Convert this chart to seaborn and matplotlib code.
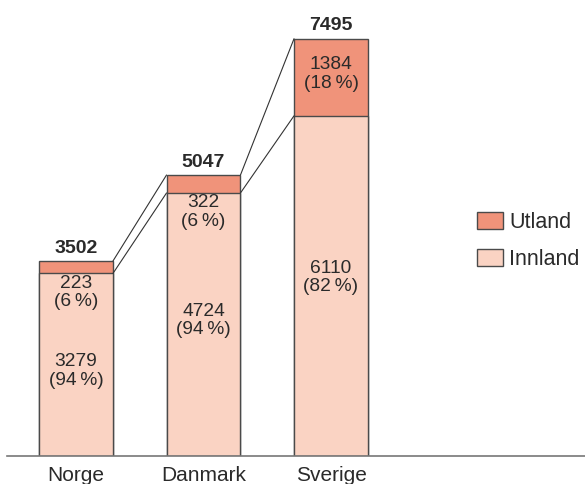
import matplotlib
matplotlib.use("Agg")
import matplotlib.pyplot as plt
import seaborn as sns
import pandas as pd
from matplotlib.patches import Patch

countries = ["Norge", "Danmark", "Sverige"]
innland = [3279, 4724, 6110]
utland = [223, 322, 1384]
innland_pct = [94, 94, 82]
utland_pct = [6, 6, 18]
totals = [3502, 5047, 7495]

c_ut = "#F0937A"
c_in = "#FAD3C3"
edge = "#4a4a4a"
tcol = "#2a2a2a"

sns.set_theme(style="white")
plt.rcParams["font.family"] = ["Liberation Sans", "DejaVu Sans"]

fig = plt.figure(figsize=(5.85, 4.84), dpi=100)
ax = fig.add_axes([7/585, 28/484, 578/585, 446/484])

df = pd.DataFrame({"land": countries, "total": totals, "innland": innland})
width = 0.58
sns.barplot(data=df, x="land", y="total", color=c_ut, edgecolor=edge, linewidth=1.0,
            width=width, saturation=1, ax=ax)
sns.barplot(data=df, x="land", y="innland", color=c_in, edgecolor=edge, linewidth=1.0,
            width=width, saturation=1, ax=ax)

px_per_unit = 127.5
ax.set_xlim(-(76 - 7) / px_per_unit, (585 - 76) / px_per_unit)
ax.set_ylim(0, 8010)

fs = 13.8
ls = 1.12
for i in range(3):
    if utland[i] > 600:
        uy = innland[i] + utland[i] / 2 + 60
        iy = innland[i] * 0.525
    else:
        uy = innland[i] - 340
        iy = innland[i] * 0.465 if innland[i] < 4000 else innland[i] * 0.515
    ax.text(i, uy, f"{utland[i]}\n({utland_pct[i]}\u2009%)",
            ha="center", va="center", fontsize=fs, color=tcol, linespacing=ls)
    ax.text(i, iy, f"{innland[i]}\n({innland_pct[i]}\u2009%)",
            ha="center", va="center", fontsize=fs, color=tcol, linespacing=ls)
    ax.text(i, totals[i] + 80, f"{totals[i]}", ha="center", va="bottom",
            fontsize=14, fontweight="bold", color=tcol)

# connector lines
hw = width / 2
for i in range(2):
    ax.plot([i + hw, i + 1 - hw], [totals[i], totals[i + 1]], color="#333333", lw=0.8)
    ax.plot([i + hw, i + 1 - hw], [innland[i], innland[i + 1]], color="#333333", lw=0.8)

for s in ["top", "right", "left"]:
    ax.spines[s].set_visible(False)
ax.spines["bottom"].set_color("#777777")
ax.spines["bottom"].set_linewidth(1.2)
ax.set_yticks([])
ax.set_xlabel("")
ax.set_ylabel("")
ax.tick_params(axis="x", length=0, labelsize=15, labelcolor=tcol, pad=7)

handles = [Patch(facecolor=c_ut, edgecolor=edge, label="Utland"),
           Patch(facecolor=c_in, edgecolor=edge, label="Innland")]
fig.legend(handles=handles, loc="upper left", bbox_to_anchor=(477/585, 1 - 212/484),
           bbox_transform=fig.transFigure,
           frameon=False, fontsize=15.5, handlelength=1.2, handleheight=0.85,
           handletextpad=0.3, labelspacing=0.75, borderaxespad=0, borderpad=0,
           labelcolor=tcol)

fig.savefig("out.png", dpi=100)
